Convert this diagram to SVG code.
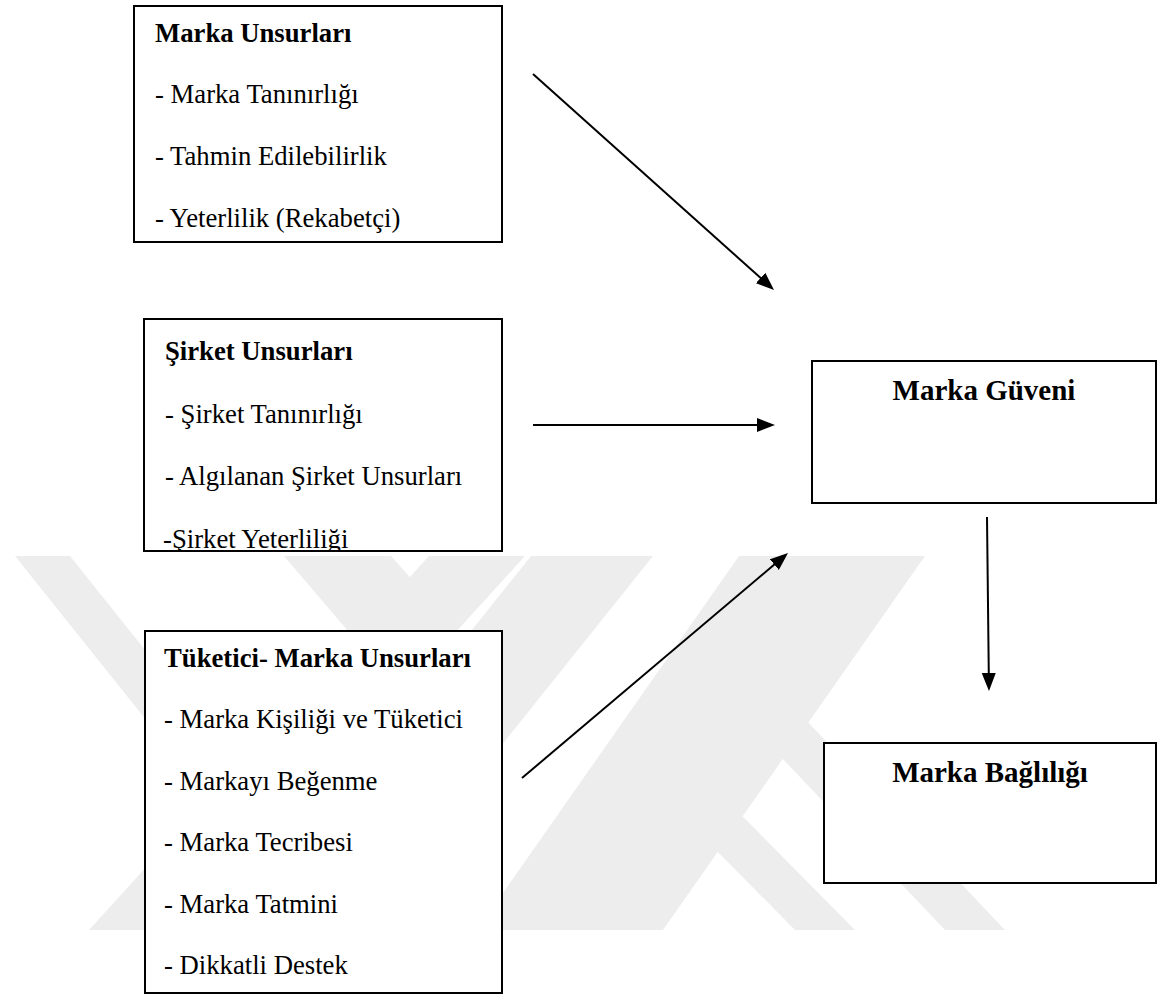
<svg xmlns="http://www.w3.org/2000/svg" width="1157" height="1003" viewBox="0 0 1157 1003">
  <defs>
    <marker id="ah" markerUnits="userSpaceOnUse" markerWidth="18" markerHeight="14" refX="2" refY="7" orient="auto">
      <path d="M0,0 L18,7 L0,14 z" fill="#000"/>
    </marker>
    <clipPath id="clip2"><rect x="144" y="319" width="358" height="232"/></clipPath>
  </defs>
  <style>
    .box { fill: #fff; stroke: #000; stroke-width: 2; }
    .t { font-family: "Liberation Serif", "Times New Roman", serif; font-size: 26.7px; fill: #000; }
    .b { font-weight: bold; }
    .title { font-family: "Liberation Serif", "Times New Roman", serif; font-size: 29px; font-weight: bold; fill: #000; text-anchor: middle; }
    .conn { stroke: #000; stroke-width: 2; fill: none; marker-end: url(#ah); }
    .wm { fill: #ededed; }
  </style>
  <rect width="1157" height="1003" fill="#fff"/>

  <g id="watermark">
    <polygon class="wm" points="15,556 70,556 369,930 314,930"/>
    <polygon class="wm" points="284,556 391,556 470,645 360,645"/>
    <polygon class="wm" points="429,556 525,556 185,930 89,930"/>
    <polygon class="wm" points="531,556 653,556 354,930 232,930"/>
    <polygon class="wm" points="739,556 925,556 663,930 477,930"/>
    <polygon class="wm" points="627,760 687,760 855,930 795,930"/>
    <polygon class="wm" points="708,680 768,680 1005,930 945,930"/>
  </g>

  <g id="connectors">
    <line class="conn" x1="533" y1="74" x2="762.1" y2="279.3"/>
    <line class="conn" x1="533" y1="425" x2="759" y2="425"/>
    <line class="conn" x1="522" y1="778" x2="775.8" y2="563.3"/>
    <line class="conn" x1="987" y1="517" x2="988.8" y2="675"/>
  </g>

  <g id="marka-unsurlari">
    <rect class="box" x="134" y="6" width="368" height="236"/>
    <text class="t b" x="155" y="42">Marka Unsurları</text>
    <text class="t" x="155" y="103">- Marka Tanınırlığı</text>
    <text class="t" x="155" y="165">- Tahmin Edilebilirlik</text>
    <text class="t" x="155" y="227">- Yeterlilik (Rekabetçi)</text>
  </g>

  <g id="sirket-unsurlari">
    <rect class="box" x="144" y="319" width="358" height="232"/>
    <g clip-path="url(#clip2)">
      <text class="t b" x="165" y="360">Şirket Unsurları</text>
      <text class="t" x="165" y="423">- Şirket Tanınırlığı</text>
      <text class="t" x="165" y="485">- Algılanan Şirket Unsurları</text>
      <text class="t" x="163" y="548">-Şirket Yeterliliği</text>
    </g>
  </g>

  <g id="tuketici-marka-unsurlari">
    <rect class="box" x="145" y="631" width="357" height="362"/>
    <text class="t b" x="164" y="667">Tüketici- Marka Unsurları</text>
    <text class="t" x="164" y="728">- Marka Kişiliği ve Tüketici</text>
    <text class="t" x="164" y="790">- Markayı Beğenme</text>
    <text class="t" x="164" y="851">- Marka Tecribesi</text>
    <text class="t" x="164" y="913">- Marka Tatmini</text>
    <text class="t" x="164" y="974">- Dikkatli Destek</text>
  </g>

  <g id="marka-guveni">
    <rect class="box" x="812" y="361" width="344" height="142"/>
    <text class="title" x="984" y="400">Marka Güveni</text>
  </g>

  <g id="marka-bagliligi">
    <rect class="box" x="824" y="743" width="332" height="140"/>
    <text class="title" x="990" y="782">Marka Bağlılığı</text>
  </g>
</svg>
